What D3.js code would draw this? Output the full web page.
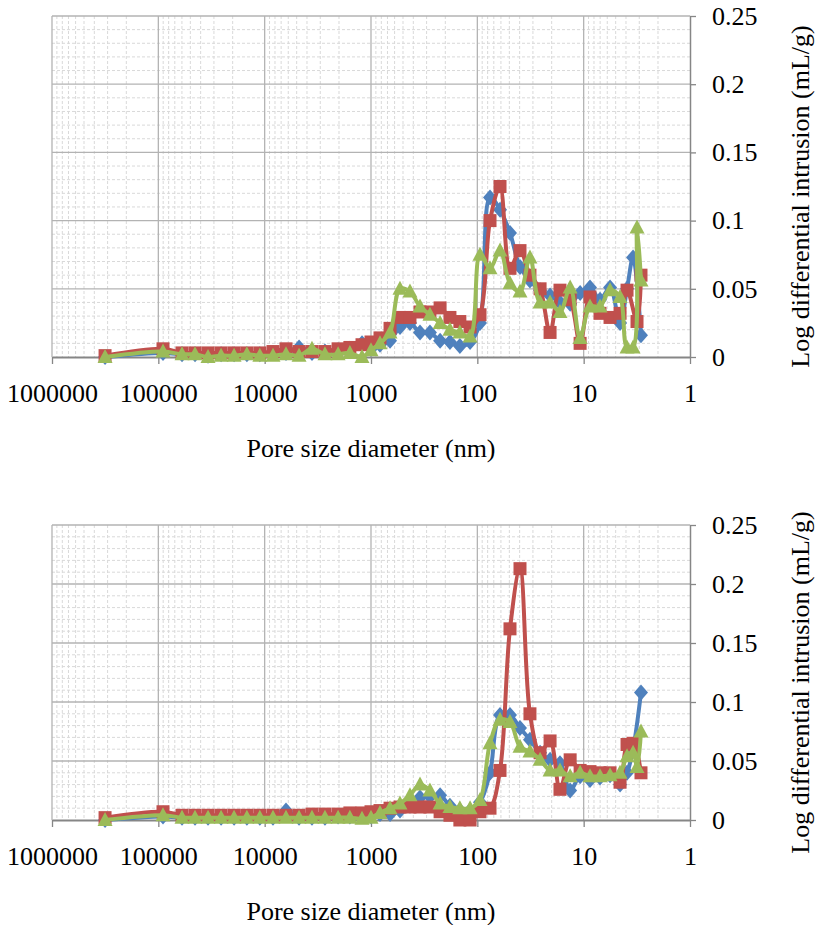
<!DOCTYPE html>
<html>
<head>
<meta charset="utf-8">
<script src="https://cdn.jsdelivr.net/npm/d3@7"></script>
<style>
  html, body { margin: 0; padding: 0; background: #fff; }
  svg { display: block; }
  text { font-family: "Liberation Serif", "Times New Roman", serif; fill: #000; }
</style>
</head>
<body>
<svg id="chart" width="818" height="925"></svg>
<script>
// ---------------- DATA ----------------
const diameters = [317000, 90400, 59900, 45200, 34100, 25700, 19400, 14700, 11100, 8350, 6300, 4750, 3590, 2710, 2040, 1580, 1215, 1000, 823, 662, 534, 430, 346, 279, 224, 181, 146, 117, 94.4, 76.0, 61.2, 49.3, 39.7, 32.0, 25.7, 20.7, 16.7, 13.4, 10.8, 8.72, 7.02, 5.65, 4.55, 3.91, 3.43, 3.15, 2.89];

const topBlue = [0, 0.003, 0.002, 0.002, 0.001, 0.002, 0.002, 0.002, 0.002, 0.003, 0.003, 0.007, 0.003, 0.004, 0.005, 0.006, 0.010, 0.006, 0.009, 0.012, 0.022, 0.025, 0.018, 0.018, 0.012, 0.011, 0.008, 0.011, 0.025, 0.117, 0.108, 0.091, 0.066, 0.056, 0.049, 0.045, 0.040, 0.039, 0.047, 0.051, 0.042, 0.051, 0.025, 0.050, 0.073, null, 0.016];
const topRed = [0.001, 0.006, 0.003, 0.003, 0.003, 0.003, 0.003, 0.003, 0.003, 0.004, 0.006, 0.004, 0.004, 0.004, 0.006, 0.007, 0.009, 0.011, 0.014, 0.021, 0.029, 0.029, 0.033, 0.033, 0.036, 0.029, 0.026, 0.022, 0.031, 0.100, 0.125, 0.065, 0.078, 0.060, 0.050, 0.018, 0.049, 0.042, 0.010, 0.044, 0.032, 0.029, 0.032, 0.049, null, 0.026, 0.060];
const topGreen = [0, 0.004, 0.002, 0.002, 0.000, 0.001, 0.001, 0.002, 0.001, 0.001, 0.002, 0.001, 0.006, 0.002, 0.002, 0.003, 0.000, 0.005, 0.010, 0.018, 0.050, 0.048, 0.037, 0.031, 0.025, 0.020, 0.018, 0.015, 0.075, 0.065, 0.078, 0.054, 0.048, 0.073, 0.040, 0.040, 0.033, 0.051, 0.014, 0.037, 0.037, 0.049, 0.044, 0.007, 0.007, 0.095, 0.056];

const bottomBlue = [0, 0.003, 0.002, 0.002, 0.002, 0.002, 0.002, 0.002, 0.002, 0.002, 0.008, 0.002, 0.002, 0.002, 0.003, 0.003, 0.004, 0.003, 0.005, 0.005, 0.008, 0.012, 0.019, 0.020, 0.021, 0.012, 0.008, 0.008, 0.015, 0.040, 0.089, 0.089, 0.078, 0.068, 0.057, 0.051, 0.048, 0.025, 0.037, 0.034, 0.036, 0.038, 0.030, 0.040, 0.060, null, 0.108];
const bottomRed = [0.002, 0.007, 0.004, 0.004, 0.004, 0.004, 0.004, 0.004, 0.004, 0.004, 0.004, 0.004, 0.005, 0.005, 0.005, 0.006, 0.006, 0.007, 0.008, 0.010, 0.011, 0.011, 0.011, 0.011, 0.007, 0.004, 0.000, 0.000, 0.007, 0.010, 0.042, 0.162, 0.213, 0.090, 0.057, 0.067, 0.026, 0.051, 0.042, 0.041, 0.040, 0.040, 0.032, 0.064, 0.065, null, 0.040];
const bottomGreen = [0, 0.004, 0.002, 0.002, 0.002, 0.002, 0.002, 0.002, 0.002, 0.002, 0.002, 0.002, 0.002, 0.002, 0.002, 0.002, 0.001, 0.002, 0.006, 0.010, 0.014, 0.021, 0.030, 0.025, 0.014, 0.011, 0.010, 0.010, 0.017, 0.065, 0.085, 0.083, 0.062, 0.058, 0.051, 0.042, 0.042, 0.037, 0.040, 0.037, 0.037, 0.038, 0.040, 0.054, 0.057, 0.045, 0.075];

const xTickValues = [1000000, 100000, 10000, 1000, 100, 10, 1];
const xTickLabels = ["1000000", "100000", "10000", "1000", "100", "10", "1"];
const yTickValues = [0, 0.05, 0.1, 0.15, 0.2, 0.25];
const yTickLabels = ["0", "0.05", "0.1", "0.15", "0.2", "0.25"];
const xTitle = "Pore size diameter (nm)";
const yTitle = "Log differential intrusion (mL/g)";

// ---------------- STYLE ----------------
const colors = { blue: "#4F81BD", red: "#C0504D", green: "#9BBB59" };
const svg = d3.select("#chart");

const panels = [
  { top: 16, bottom: 357, series: [
      { values: topBlue, color: colors.blue, shape: "diamond" },
      { values: topRed, color: colors.red, shape: "square" },
      { values: topGreen, color: colors.green, shape: "triangle" } ] },
  { top: 525, bottom: 820, series: [
      { values: bottomBlue, color: colors.blue, shape: "diamond" },
      { values: bottomRed, color: colors.red, shape: "square" },
      { values: bottomGreen, color: colors.green, shape: "triangle" } ] }
];

const x = d3.scaleLog().domain([1e6, 1]).range([52, 690]);

function markerPath(shape) {
  if (shape === "diamond") return "M0,-8L7,0L0,8L-7,0Z";
  if (shape === "square") return "M-6.5,-6.5H6.5V6.5H-6.5Z";
  return "M0,-8L7.5,6L-7.5,6Z";
}

panels.forEach(p => {
  const y = d3.scaleLinear().domain([0, 0.25]).range([p.bottom, p.top]);
  const g = svg.append("g");

  // minor vertical gridlines (2..9 within each decade)
  const minorX = [];
  for (let e = 0; e < 6; e++) for (let m = 2; m <= 9; m++) minorX.push(m * Math.pow(10, e));
  g.append("g").selectAll("line").data(minorX).join("line")
    .attr("x1", d => x(d)).attr("x2", d => x(d))
    .attr("y1", p.top).attr("y2", p.bottom)
    .attr("stroke", "#D9D9D9").attr("stroke-width", 1).attr("stroke-dasharray", "3,2");

  // minor horizontal gridlines every 0.01
  const minorY = d3.range(1, 25).map(i => i / 100).filter(v => Math.abs(v * 20 - Math.round(v * 20)) > 1e-6);
  g.append("g").selectAll("line").data(minorY).join("line")
    .attr("x1", 52).attr("x2", 690)
    .attr("y1", d => y(d)).attr("y2", d => y(d))
    .attr("stroke", "#D9D9D9").attr("stroke-width", 1).attr("stroke-dasharray", "3,2");

  // major gridlines
  g.append("g").selectAll("line").data(xTickValues.slice(0, 6)).join("line")
    .attr("x1", d => x(d)).attr("x2", d => x(d))
    .attr("y1", p.top).attr("y2", p.bottom)
    .attr("stroke", "#B3B3B3").attr("stroke-width", 1.3);
  g.append("g").selectAll("line").data(yTickValues.slice(1)).join("line")
    .attr("x1", 52).attr("x2", 690)
    .attr("y1", d => y(d)).attr("y2", d => y(d))
    .attr("stroke", "#B3B3B3").attr("stroke-width", 1.3);

  // axes
  const xAxis = d3.axisBottom(x).tickValues(xTickValues)
    .tickFormat((d, i) => xTickLabels[i]).tickSize(7).tickPadding(20).tickSizeOuter(0);
  const xg = g.append("g").attr("transform", `translate(0,${p.bottom})`).call(xAxis);
  xg.attr("font-family", null);
  xg.select(".domain").attr("stroke", "#868686").attr("stroke-width", 2);
  xg.selectAll(".tick line").attr("stroke", "#868686").attr("stroke-width", 1.3);
  xg.selectAll(".tick text").attr("font-size", 26);

  const yAxis = d3.axisRight(y).tickValues(yTickValues)
    .tickFormat((d, i) => yTickLabels[i]).tickSize(6).tickPadding(16).tickSizeOuter(0);
  const yg = g.append("g").attr("transform", `translate(690,0)`).call(yAxis);
  yg.attr("font-family", null);
  yg.select(".domain").attr("stroke", "#868686").attr("stroke-width", 1.5);
  yg.selectAll(".tick line").attr("stroke", "#868686").attr("stroke-width", 1.3);
  yg.selectAll(".tick text").attr("font-size", 26);

  // titles
  g.append("text").attr("x", 371).attr("y", p.bottom + 100)
    .attr("text-anchor", "middle").attr("font-size", 26).text(xTitle);
  const cy = (p.top + p.bottom) / 2 + 10;
  g.append("text").attr("transform", `translate(809,${cy}) rotate(-90)`)
    .attr("text-anchor", "middle").attr("font-size", 26).text(yTitle);

  // series
  const line = d3.line()
    .x(d => x(d.d)).y(d => y(d.v))
    .curve(d3.curveCatmullRom.alpha(0.5));
  p.series.forEach(s => {
    const pts = diameters.map((d, i) => ({ d, v: s.values[i] })).filter(o => o.v !== null);
    g.append("path").datum(pts).attr("d", line)
      .attr("fill", "none").attr("stroke", s.color).attr("stroke-width", 4)
      .attr("stroke-linejoin", "round");
    g.append("g").selectAll("path").data(pts).join("path")
      .attr("transform", o => `translate(${x(o.d)},${y(o.v)})`)
      .attr("d", markerPath(s.shape))
      .attr("fill", s.color);
  });
});
</script>
</body>
</html>
